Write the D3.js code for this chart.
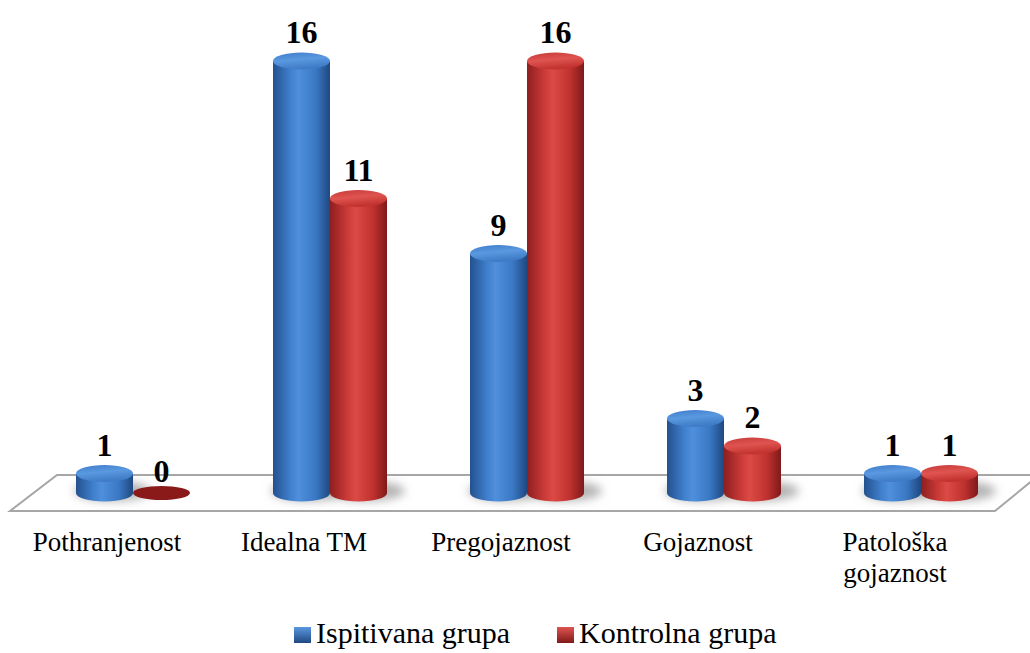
<!DOCTYPE html>
<html>
<head>
<meta charset="utf-8">
<script src="https://cdn.jsdelivr.net/npm/d3@7"></script>
</head>
<body style="margin:0;background:#fff">
<svg id="chart" width="1030" height="653" style="display:block"></svg>
<script>
const categories = ["Pothranjenost", "Idealna TM", "Pregojaznost", "Gojaznost", "Patološka gojaznost"];
const seriesNames = ["Ispitivana grupa", "Kontrolna grupa"];
const ispitivana = [1, 16, 9, 3, 1];
const kontrolna = [0, 11, 16, 2, 1];
const seriesValues = [ispitivana, kontrolna];

const FONT = '"Liberation Serif"';
const svg = d3.select("#chart");
const defs = svg.append("defs");

const palettes = [
  { side: ["#24518f", "#3f7fcc", "#4f8fdb", "#3a78c4", "#1f4880"], top: ["#3e7ccb", "#5a98e0", "#3f7bc6"] },
  { side: ["#8e1f1f", "#c93a37", "#dc4a45", "#c0322f", "#7f1a1a"], top: ["#c53a36", "#df5450", "#c2322e"] }
];
palettes.forEach((p, i) => {
  const g = defs.append("linearGradient").attr("id", "side" + i).attr("x1", 0).attr("x2", 1).attr("y1", 0).attr("y2", 0);
  p.side.forEach((c, k) => g.append("stop").attr("offset", [0, 0.3, 0.45, 0.75, 1][k]).attr("stop-color", c));
  const t = defs.append("linearGradient").attr("id", "top" + i).attr("x1", 0).attr("x2", 0.3).attr("y1", 0).attr("y2", 1);
  p.top.forEach((c, k) => t.append("stop").attr("offset", [0, 0.5, 1][k]).attr("stop-color", c));
  const lg = defs.append("linearGradient").attr("id", "leg" + i).attr("x1", 0).attr("x2", 0).attr("y1", 0).attr("y2", 1);
  lg.append("stop").attr("offset", 0).attr("stop-color", p.top[1]);
  lg.append("stop").attr("offset", 1).attr("stop-color", p.side[4]);
});
const blur = defs.append("filter").attr("id", "blur").attr("x", "-50%").attr("y", "-50%").attr("width", "200%").attr("height", "200%");
blur.append("feGaussianBlur").attr("stdDeviation", 5);

// scales
const x = d3.scalePoint().domain(categories).range([133, 921]);
const xs = d3.scaleBand().domain(seriesNames).range([-57, 57]);
const y = d3.scaleLinear().domain([0, 16]).range([501, 61]);
const baseY = 493, rx = 28.5, ry = 8.5;

// floor
const floor = [[10, 511], [57, 475], [1039, 475], [995, 511]];
svg.append("polygon")
  .attr("points", floor.map(p => p.join(",")).join(" "))
  .attr("fill", "#ffffff").attr("stroke", "#a6a6a6").attr("stroke-width", 2);

// shadows
const shadowG = svg.append("g").attr("filter", "url(#blur)");
categories.forEach((c, ci) => {
  seriesNames.forEach((s, si) => {
    const v = seriesValues[si][ci];
    if (v <= 0) return;
    const cx = x(c) + xs(s) + xs.bandwidth() / 2;
    shadowG.append("ellipse")
      .attr("cx", cx + 8).attr("cy", baseY - 2).attr("rx", rx + 10).attr("ry", 10)
      .attr("fill", "#9a9a9a").attr("opacity", 0.75);
  });
});

// bars
const barsG = svg.append("g");
categories.forEach((c, ci) => {
  seriesNames.forEach((s, si) => {
    const v = seriesValues[si][ci];
    const cx = x(c) + xs(s) + xs.bandwidth() / 2;
    const topY = Math.min(y(v), baseY);
    const g = barsG.append("g");
    if (v <= 0) {
      g.append("ellipse").attr("cx", cx).attr("cy", baseY).attr("rx", rx).attr("ry", ry - 1.5)
        .attr("fill", "#8a1a1a");
      return;
    }
    g.append("path")
      .attr("d", `M${cx - rx},${topY} L${cx - rx},${baseY} A${rx},${ry} 0 0 0 ${cx + rx},${baseY} L${cx + rx},${topY} Z`)
      .attr("fill", `url(#side${si})`);
    g.append("ellipse").attr("cx", cx).attr("cy", topY).attr("rx", rx).attr("ry", ry)
      .attr("fill", `url(#top${si})`);
  });
});

// value labels
categories.forEach((c, ci) => {
  seriesNames.forEach((s, si) => {
    const v = seriesValues[si][ci];
    const cx = x(c) + xs(s) + xs.bandwidth() / 2;
    const topY = Math.min(y(v), baseY);
    svg.append("text")
      .attr("x", cx).attr("y", topY - (v <= 0 ? 11 : 18))
      .attr("text-anchor", "middle")
      .style("font-family", FONT).style("font-weight", "bold").style("font-size", "32px")
      .attr("fill", "#000")
      .text(v);
  });
});

// category labels
const catLines = { "Patološka gojaznost": ["Patološka", "gojaznost"] };
categories.forEach(c => {
  const lines = catLines[c] || [c];
  const t = svg.append("text")
    .attr("x", x(c) - 26).attr("y", 551)
    .attr("text-anchor", "middle")
    .style("font-family", FONT).style("font-size", "27px")
    .attr("fill", "#000");
  lines.forEach((l, i) => t.append("tspan").attr("x", x(c) - 26).attr("dy", i === 0 ? 0 : 31).text(l));
});

// legend
const legendX = [294, 557];
seriesNames.forEach((s, si) => {
  const lx = legendX[si];
  svg.append("rect").attr("x", lx).attr("y", 627).attr("width", 17).attr("height", 16)
    .attr("fill", `url(#leg${si})`);
  svg.append("text").attr("x", lx + 22).attr("y", 643)
    .style("font-family", FONT).style("font-size", "30px")
    .attr("fill", "#000")
    .text(s);
});
</script>
</body>
</html>
